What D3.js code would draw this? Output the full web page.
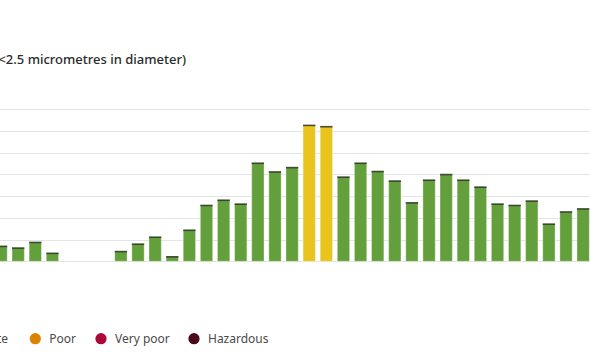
<!DOCTYPE html>
<html>
<head>
<meta charset="utf-8">
<script src="https://cdn.jsdelivr.net/npm/d3@7"></script>
<style>
  body { margin: 0; background: #fff; }
  svg { display: block; font-family: "Noto Sans", sans-serif; }
</style>
</head>
<body>
<svg id="chart" width="590" height="354"></svg>
<script>
// hourly PM2.5 readings (µg/m³), null = no reading
const hours = ["Mon 13:00", "Mon 14:00", "Mon 15:00", "Mon 16:00", "Mon 17:00", "Mon 18:00", "Mon 19:00",
  "Mon 20:00", "Mon 21:00", "Mon 22:00", "Mon 23:00", "Tue 00:00", "Tue 01:00", "Tue 02:00", "Tue 03:00",
  "Tue 04:00", "Tue 05:00", "Tue 06:00", "Tue 07:00", "Tue 08:00", "Tue 09:00", "Tue 10:00", "Tue 11:00",
  "Tue 12:00", "Tue 13:00", "Tue 14:00", "Tue 15:00", "Tue 16:00", "Tue 17:00", "Tue 18:00", "Tue 19:00",
  "Tue 20:00", "Tue 21:00", "Tue 22:00", "Tue 23:00"];
const pm25 = [3.5, 3.1, 4.4, 1.9, null, null, null, 2.3, 4.0, 5.6, 1.1, 7.2, 12.9, 14.1, 13.2,
  22.6, 20.6, 21.6, 31.3, 31.0, 19.4, 22.6, 20.7, 18.5, 13.5, 18.7, 20.0, 18.7, 17.1,
  13.2, 12.9, 13.9, 8.6, 11.4, 12.1];
const yTicks = [0, 5, 10, 15, 20, 25, 30, 35];
const categories = ["Moderate", "Poor", "Very poor", "Hazardous"];
const catColors = ["#e8c41d", "#db8200", "#ad073a", "#4b0a1c"];
const goodColor = "#63a03b";

const svg = d3.select("#chart");

const x = d3.scaleBand()
  .domain(hours)
  .range([-7.5, 591.7])
  .paddingInner(0.28)
  .paddingOuter(0.14);

const y = d3.scaleLinear()
  .domain([0, 35])
  .range([261.3, 109]);

// title (left part sits outside the crop)
svg.append("text")
  .attr("x", 186)
  .attr("y", 64)
  .attr("text-anchor", "end")
  .style("font-size", "13px")
  .style("font-weight", 500)
  .attr("fill", "#2b2b2b")
  .text("PM2.5 fine particles (<2.5 micrometres in diameter)");

// gridlines
svg.append("g")
  .selectAll("line")
  .data(yTicks)
  .enter()
  .append("line")
  .attr("x1", -10)
  .attr("x2", 600)
  .attr("y1", d => Math.round(y(d)) + 0.5)
  .attr("y2", d => Math.round(y(d)) + 0.5)
  .attr("stroke", "#e3e4e8")
  .attr("stroke-width", 1.2);

const barColor = v => v >= 300 ? catColors[3] : v >= 100 ? catColors[2] : v >= 50 ? catColors[1] : v >= 25 ? catColors[0] : goodColor;

const data = hours.map((h, i) => ({ hour: h, value: pm25[i] })).filter(d => d.value != null);

const bars = svg.append("g")
  .selectAll("g")
  .data(data)
  .enter()
  .append("g");

bars.append("rect")
  .attr("x", d => x(d.hour))
  .attr("width", x.bandwidth())
  .attr("y", d => y(d.value))
  .attr("height", d => y(0) - y(d.value))
  .attr("fill", d => barColor(d.value))
  .attr("stroke", "#ffffff")
  .attr("stroke-opacity", 0.35)
  .attr("stroke-width", 1);

// dark cap on top of each bar
bars.append("rect")
  .attr("x", d => x(d.hour))
  .attr("width", x.bandwidth())
  .attr("y", d => y(d.value) - 0.5)
  .attr("height", 1.6)
  .attr("fill", "#2d3328")
  .attr("opacity", 0.85);

// legend
const legendX = [8, 35.3, 101, 194];
const legend = svg.append("g")
  .selectAll("g")
  .data(categories)
  .enter()
  .append("g");

legend.filter((d, i) => i > 0).append("circle")
  .attr("cx", (d, i) => legendX[i + 1])
  .attr("cy", 338.7)
  .attr("r", 5.6)
  .attr("fill", (d, i) => catColors[i + 1]);

legend.append("text")
  .attr("x", (d, i) => i === 0 ? legendX[0] : legendX[i] + 14)
  .attr("y", 343)
  .attr("text-anchor", (d, i) => i === 0 ? "end" : "start")
  .style("font-size", "12px")
  .attr("fill", "#4a4a4a")
  .text(d => d);
</script>
</body>
</html>
